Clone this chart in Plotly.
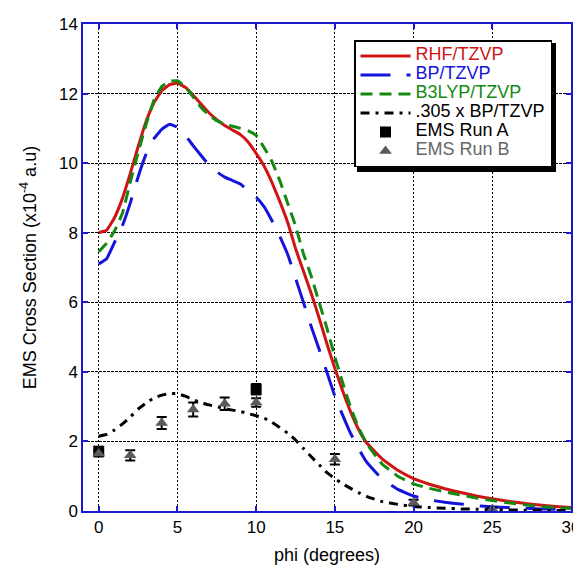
import plotly.graph_objects as go

# ---- data ----
phi = [0, 0.5, 1, 1.5, 2, 2.5, 3, 3.5, 4, 4.5, 5, 5.5, 6, 6.5, 7, 7.5, 8, 8.5, 9, 9.5,
       10, 10.5, 11, 11.5, 12, 12.5, 13, 13.5, 14, 14.5, 15, 15.5, 16, 16.5, 17,
       18, 19, 20, 21, 22, 23, 24, 25, 26, 27, 28, 29, 30]

rhf_tzvp = [8.0, 8.07, 8.43, 8.98, 9.7, 10.47, 11.19, 11.73, 12.08, 12.26,
            12.3, 12.18, 11.95, 11.7, 11.45, 11.25, 11.08, 10.95, 10.82, 10.6,
            10.28, 9.92, 9.45, 8.9, 8.3, 7.55, 6.9, 6.25, 5.55, 4.8,
            4.1, 3.45, 2.85, 2.35, 1.97,
            1.5, 1.17, 0.93, 0.77, 0.64, 0.53, 0.43, 0.35, 0.28, 0.22, 0.17, 0.13, 0.1]

bp_tzvp = [7.1, 7.25, 7.72, 8.2, 8.85, 9.6, 10.25, 10.7, 10.97, 11.12,
           11.03, 10.8, 10.5, 10.22, 9.95, 9.75, 9.6, 9.5, 9.4, 9.2,
           9.02, 8.75, 8.35, 7.9, 7.38, 6.7, 6.0, 5.3, 4.65, 3.98,
           3.3, 2.75, 2.23, 1.8, 1.42,
           0.92, 0.62, 0.43, 0.32, 0.25, 0.2, 0.15, 0.12, 0.1, 0.08, 0.06, 0.05, 0.04]

b3lyp_tzvp = [7.45, 7.7, 8.05, 8.55, 9.45, 10.3, 11.1, 11.8, 12.2, 12.35,
              12.37, 12.2, 11.9, 11.6, 11.38, 11.22, 11.12, 11.06, 11.0, 10.93,
              10.8, 10.45, 10.05, 9.5, 8.85, 8.2, 7.4, 6.75, 6.0, 5.25,
              4.43, 3.68, 2.98, 2.4, 1.95,
              1.35, 1.0, 0.78, 0.65, 0.55, 0.46, 0.37, 0.3, 0.24, 0.18, 0.13, 0.1, 0.07]

scaled_bp = [2.15, 2.2, 2.33, 2.5, 2.7, 2.93, 3.1, 3.25, 3.33, 3.38,
             3.37, 3.3, 3.2, 3.12, 3.05, 3.0, 2.94, 2.9, 2.86, 2.8,
             2.74, 2.67, 2.55, 2.4, 2.24, 2.04, 1.8, 1.56, 1.33, 1.1,
             0.93, 0.78, 0.65, 0.53, 0.42,
             0.27, 0.19, 0.13, 0.1, 0.08, 0.06, 0.05, 0.04, 0.03, 0.025, 0.02, 0.015, 0.01]

run_a_phi = [0, 10]
run_a_val = [1.72, 3.5]
run_a_err = [0.12, 0.15]

run_b_phi = [0, 2, 4, 6, 8, 10, 15, 20, 25]
run_b_val = [1.65, 1.6, 2.53, 2.92, 3.08, 3.12, 1.49, 0.24, 0.05]
run_b_err = [0.08, 0.15, 0.17, 0.2, 0.18, 0.12, 0.15, 0.08, 0.05]

x_ticks = [0, 5, 10, 15, 20, 25, 30]
y_ticks = [0, 2, 4, 6, 8, 10, 12, 14]

RED = "#d01414"
BLUE = "#1414dc"
GREEN = "#128a12"
GRAY = "#5a5a5a"
AXIS = "#1a1acc"
FONT = "Liberation Sans, Arial, Helvetica, sans-serif"


def lbl(text, color):
    return f"<span style='font-size:18px;color:{color}'>{text}</span>"


line_opts = dict(width=3, shape="spline", smoothing=0.3)

fig = go.Figure()
fig.add_trace(go.Scatter(x=phi, y=rhf_tzvp, mode="lines", name=lbl("RHF/TZVP", RED),
                         line=dict(color=RED, **line_opts)))
fig.add_trace(go.Scatter(x=phi, y=bp_tzvp, mode="lines", name=lbl("BP/TZVP", BLUE),
                         line=dict(color=BLUE, dash="30px,16px", **line_opts)))
fig.add_trace(go.Scatter(x=phi, y=b3lyp_tzvp, mode="lines", name=lbl("B3LYP/TZVP", GREEN),
                         line=dict(color=GREEN, dash="12px,7px", **line_opts)))
fig.add_trace(go.Scatter(x=phi, y=scaled_bp, mode="lines", name=lbl(".305 x BP/TZVP", "#000000"),
                         line=dict(color="#000000", dash="9px,6px,3px,6px", **line_opts)))
fig.add_trace(go.Scatter(x=run_a_phi, y=run_a_val, mode="markers", name=lbl("EMS Run A", "#000000"),
                         marker=dict(symbol="square", size=11, color="#000000"),
                         error_y=dict(type="data", array=run_a_err, color="#000000", thickness=2, width=5)))
fig.add_trace(go.Scatter(x=run_b_phi, y=run_b_val, mode="markers", name=lbl("EMS Run B", "#666666"),
                         marker=dict(symbol="triangle-up", size=11, color=GRAY),
                         error_y=dict(type="data", array=run_b_err, color="#000000", thickness=2, width=5)))

axis_common = dict(
    showgrid=True, gridcolor="#000000", gridwidth=1, automargin=False,
    zeroline=False, showline=True, linecolor=AXIS, linewidth=1.5, mirror="ticks",
    ticks="inside", ticklen=5, tickwidth=1.5, tickcolor=AXIS,
    tickfont=dict(family=FONT, size=17, color="#000000"),
)

fig.update_xaxes(range=[-1, 30], tickvals=x_ticks, griddash="2px,2px",
                 title=dict(text="phi (degrees)", font=dict(family=FONT, size=18, color="#000000"), standoff=12),
                 **axis_common)
fig.update_yaxes(range=[0, 14], tickvals=y_ticks, griddash="3px,1px",
                 title=dict(text="EMS Cross Section (x10<sup>-4</sup> a.u)",
                            font=dict(family=FONT, size=18, color="#000000"), standoff=18),
                 **axis_common)

# plot area in page pixels: x 83..571, y 24..511 (page body adds an 8px offset)
# legend shadow (paper coordinates)
fig.add_shape(type="rect", xref="paper", yref="paper",
              x0=(357 - 83) / 488, x1=(556 - 83) / 488,
              y0=(511 - 172) / 487, y1=(511 - 43) / 487,
              fillcolor="#000000", line=dict(width=0), layer="above")

fig.update_layout(
    width=573, height=560,
    margin=dict(l=75, r=10, t=16, b=57),
    paper_bgcolor="white", plot_bgcolor="white",
    font=dict(family=FONT, color="#000000"),
    showlegend=True,
    legend=dict(x=(354 - 83) / 488, y=(511 - 40) / 487, xanchor="left", yanchor="top",
                bgcolor="white", bordercolor="#000000", borderwidth=1.5,
                font=dict(family=FONT, size=11), itemwidth=50, tracegroupgap=0),
)

fig.write_html("out.html")
